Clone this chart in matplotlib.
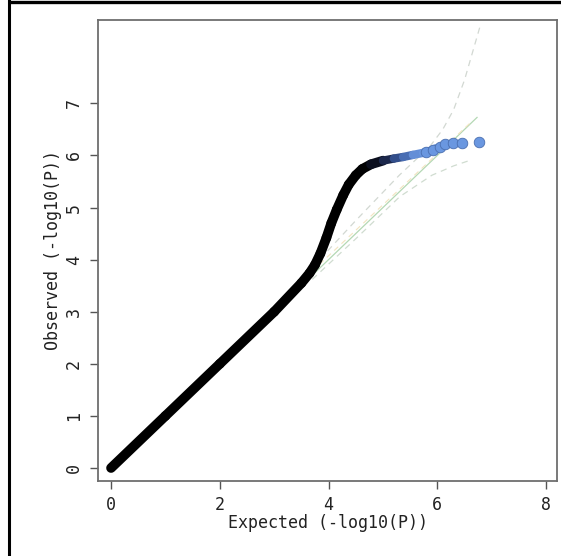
import matplotlib

matplotlib.use("Agg")
import matplotlib.pyplot as plt
from matplotlib.colors import LinearSegmentedColormap
import numpy as np

# QQ band (expected vs observed -log10(P))
band_exp = [0.0, 1.0, 2.0, 3.0, 3.5, 3.65, 3.75, 3.85, 3.96, 4.05, 4.15, 4.27,
            4.37, 4.50, 4.62, 4.78, 5.00, 5.20, 5.37, 5.55, 5.74, 5.90, 5.98]
band_obs = [0.0, 1.0, 2.0, 3.0, 3.55, 3.74, 3.90, 4.12, 4.42, 4.70, 4.96, 5.24,
            5.44, 5.62, 5.74, 5.83, 5.90, 5.94, 5.97, 6.01, 6.05, 6.10, 6.14]

# sparse tail points (drawn as separate circles)
tail_exp = [5.80, 5.92, 6.05, 6.14, 6.29, 6.46, 6.77]
tail_obs = [6.07, 6.11, 6.17, 6.21, 6.23, 6.24, 6.26]

# reference / confidence lines
diag_x = [3.7, 6.73]
upper_x = [3.7, 4.5, 5.3, 5.86, 6.1, 6.3, 6.5, 6.78]
upper_y = [3.85, 4.75, 5.62, 6.17, 6.50, 6.88, 7.45, 8.46]
lower_x = [3.7, 4.5, 5.31, 5.9, 6.3, 6.64]
lower_y = [3.62, 4.40, 5.21, 5.62, 5.80, 5.92]

BLUE = "#6a97e0"
cmap = LinearSegmentedColormap.from_list("qq", ["#000000", "#141c38", "#3a5a9e", BLUE])

fig = plt.figure(figsize=(5.61, 5.56), dpi=100)
ax = fig.add_axes([98 / 561, 1 - 481 / 556, (557 - 98) / 561, (481 - 20) / 556])

# confidence band and diagonal (faint, as in the original)
ax.plot(upper_x, upper_y, color="#d2d8d2", lw=0.9, ls=(0, (5, 4)), zorder=1)
ax.plot(lower_x, lower_y, color="#d0dcd0", lw=0.9, ls=(0, (5, 4)), zorder=1)
ax.plot(diag_x, diag_x, color="#b4d8b4", lw=0.9, zorder=1)
ax.plot([3.7, 6.6], [3.78, 6.62], color="#f2e4c0", lw=0.8, ls=(0, (5, 4)), zorder=1)

# dense band of points: thick line colored along expected value
be = np.array(band_exp)
bo = np.array(band_obs)
for i in range(len(be) - 1):
    c = cmap(np.clip((be[i] - 4.6) / 1.0, 0, 1))
    w = 7.0 if be[i] < 4.8 else 6.0
    ax.plot(be[i:i + 2], bo[i:i + 2], color=c, lw=w,
            solid_capstyle="round", zorder=2)
ax.scatter(tail_exp, tail_obs, s=58, color=BLUE, edgecolor="#4a6fb0",
           linewidth=0.6, zorder=3)

ax.set_xlim(-0.24, 8.2)
ax.set_ylim(-0.25, 8.6)
ax.set_xticks([0, 2, 4, 6, 8])
ax.set_yticks(range(8))
for s in ax.spines.values():
    s.set_color("#6e6e6e")
    s.set_linewidth(1.3)
ax.tick_params(direction="out", length=6, width=1.0, color="#555555",
               labelsize=12, pad=5, labelcolor="#222222")
for lab in ax.get_xticklabels() + ax.get_yticklabels():
    lab.set_family("DejaVu Sans Mono")
for lab in ax.get_yticklabels():
    lab.set_rotation(90)
    lab.set_va("center")
ax.set_xlabel("Expected (-log10(P))", family="DejaVu Sans Mono", fontsize=12,
              labelpad=0, color="#222222")
ax.set_ylabel("Observed (-log10(P))", family="DejaVu Sans Mono", fontsize=12,
              labelpad=2, color="#222222")

# outer frame lines of the screenshot
fig.add_artist(plt.Line2D([10 / 561, 1], [1 - 1.5 / 556, 1 - 1.5 / 556],
                          color="black", lw=2.4, transform=fig.transFigure))
fig.add_artist(plt.Line2D([9 / 561, 9 / 561], [0, 1],
                          color="black", lw=2.2, transform=fig.transFigure))

fig.savefig("out.png", dpi=100)
